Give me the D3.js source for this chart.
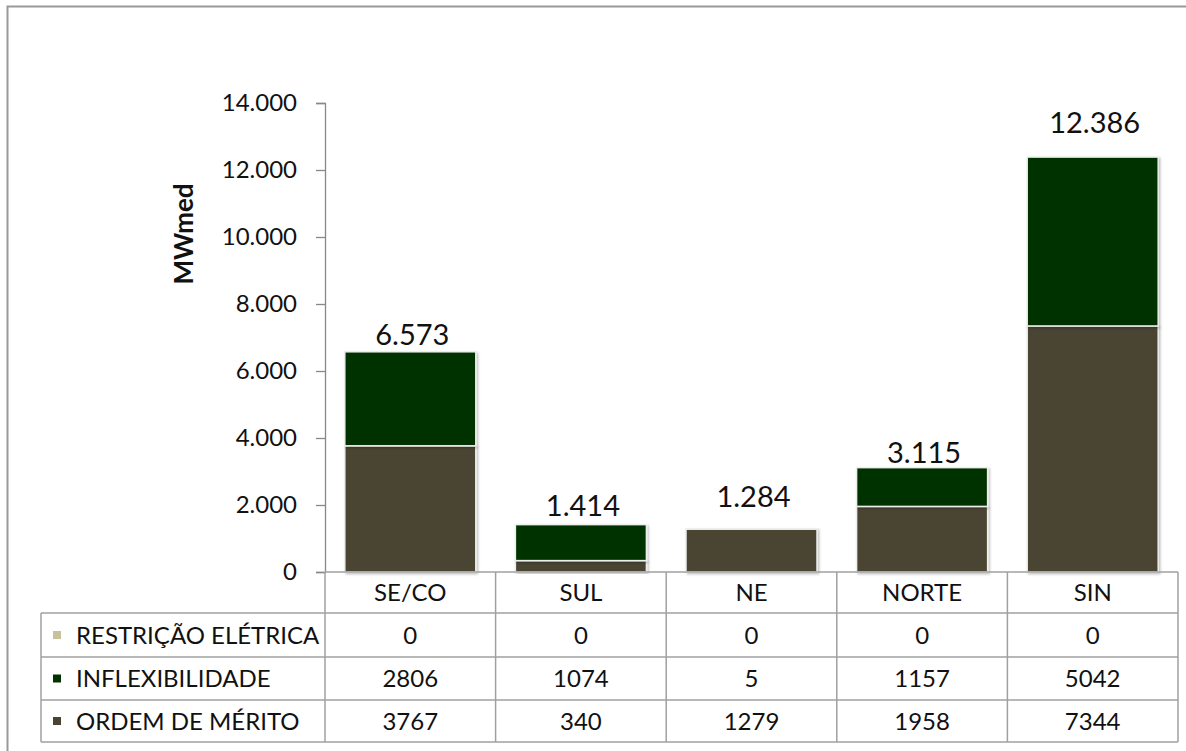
<!DOCTYPE html>
<html>
<head>
<meta charset="utf-8">
<script src="https://cdn.jsdelivr.net/npm/d3@7"></script>
<style>
  body { margin: 0; background: #fff; }
  svg { display: block; font-family: Lato, "Noto Sans", sans-serif; }
</style>
</head>
<body>
<svg id="chart"></svg>
<script>
// Data
var categories = ["SE/CO", "SUL", "NE", "NORTE", "SIN"];
var seriesNames = ["RESTRIÇÃO ELÉTRICA", "INFLEXIBILIDADE", "ORDEM DE MÉRITO"];
var restricao = [0, 0, 0, 0, 0];
var inflexibilidade = [2806, 1074, 5, 1157, 5042];
var ordemMerito = [3767, 340, 1279, 1958, 7344];
var yTicks = [0, 2000, 4000, 6000, 8000, 10000, 12000, 14000];

// gap (px) between each total label and its bar, labels were placed by hand in the original
var labelGap = [7, 9, 22, 5, 24];

var colors = {
    "RESTRIÇÃO ELÉTRICA": "#c9c09c",
    "INFLEXIBILIDADE": "#003300",
    "ORDEM DE MÉRITO": "#4a4430"
};

var W = 1186, H = 751;
var svg = d3.select("#chart").attr("width", W).attr("height", H);

// outer frame
svg.append("rect")
    .attr("x", 7.5).attr("y", 6.5)
    .attr("width", W + 20).attr("height", H + 20)
    .attr("fill", "none").attr("stroke", "#999").attr("stroke-width", 2);

var loc = d3.formatLocale({decimal: ",", thousands: ".", grouping: [3], currency: ["", ""]});
var fmt = loc.format(",d");

// rows for the stack
var rows = categories.map(function (c, i) {
    return {
        category: c,
        "ORDEM DE MÉRITO": ordemMerito[i],
        "INFLEXIBILIDADE": inflexibilidade[i],
        "RESTRIÇÃO ELÉTRICA": restricao[i]
    };
});
var stacked = d3.stack()
    .keys(["ORDEM DE MÉRITO", "INFLEXIBILIDADE", "RESTRIÇÃO ELÉTRICA"])(rows);
var total = function (d) {
    return d["ORDEM DE MÉRITO"] + d["INFLEXIBILIDADE"] + d["RESTRIÇÃO ELÉTRICA"];
};

var plotLeft = 325, plotRight = 1178, plotTop = 103, plotBottom = 572;
var x = d3.scaleBand()
    .domain(categories)
    .range([plotLeft, plotRight])
    .paddingInner(0.232)
    .paddingOuter(0.116);
var y = d3.scaleLinear()
    .domain([0, 14000])
    .range([plotBottom, plotTop]);

var step = x.step();
var colLeft = function (c) { return x(c) - step * x.paddingInner() / 2; };

// y axis
var yAxis = svg.append("g")
    .attr("transform", "translate(" + plotLeft + ",0)")
    .call(d3.axisLeft(y).tickValues(yTicks).tickFormat(fmt).tickSize(9).tickPadding(19));
yAxis.select(".domain").attr("stroke", "#888").attr("stroke-width", 1.3);
yAxis.selectAll(".tick line").attr("stroke", "#888").attr("stroke-width", 1.3);
yAxis.selectAll("text")
    .attr("fill", "#111")
    .style("font-size", "24px")
    .style("font-family", "Lato, 'Noto Sans', sans-serif");

svg.append("text")
    .attr("transform", "translate(193,234) rotate(-90)")
    .attr("text-anchor", "middle")
    .style("font-size", "26px")
    .style("font-weight", "bold")
    .attr("fill", "#111")
    .text("MWmed");

// bar shadow filter
var defs = svg.append("defs");
var f = defs.append("filter").attr("id", "shadow")
    .attr("x", "-10%").attr("y", "-10%").attr("width", "120%").attr("height", "120%");
f.append("feDropShadow").attr("dx", 1.5).attr("dy", 1.5).attr("stdDeviation", 1.2)
    .attr("flood-color", "#000").attr("flood-opacity", 0.25);

// bars
svg.append("g")
    .selectAll("g")
    .data(stacked)
    .enter().append("g")
    .attr("fill", function (d) { return colors[d.key]; })
    .selectAll("rect")
    .data(function (d) { return d.filter(function (v) { return v[1] - v[0] > 0; }); })
    .enter().append("rect")
    .attr("x", function (d) { return x(d.data.category); })
    .attr("y", function (d) { return y(d[1]); })
    .attr("width", x.bandwidth())
    .attr("height", function (d) { return y(d[0]) - y(d[1]); })
    .attr("stroke", "#eeeeee")
    .attr("stroke-width", 1.5)
    .attr("filter", "url(#shadow)");

// totals above bars
svg.append("g")
    .selectAll("text")
    .data(rows)
    .enter().append("text")
    .attr("x", function (d) { return x(d.category) + x.bandwidth() / 2 + 2; })
    .attr("y", function (d, i) { return y(total(d)) - labelGap[i]; })
    .attr("text-anchor", "middle")
    .attr("fill", "#111")
    .style("font-size", "29px")
    .text(function (d) { return fmt(total(d)); });

// data table
var tableLeft = 41;
var rowY = [572, 613, 657, 700, 742];
var tbl = svg.append("g").attr("stroke", "#a0a0a0").attr("stroke-width", 1.5);

// horizontal lines
tbl.append("line").attr("x1", plotLeft).attr("x2", plotRight).attr("y1", rowY[0]).attr("y2", rowY[0]);
rowY.slice(1).forEach(function (ry) {
    tbl.append("line").attr("x1", tableLeft).attr("x2", plotRight).attr("y1", ry).attr("y2", ry);
});
// vertical lines
tbl.append("line").attr("x1", tableLeft).attr("x2", tableLeft).attr("y1", rowY[1]).attr("y2", rowY[4]);
categories.forEach(function (c) {
    var cx = colLeft(c);
    tbl.append("line").attr("x1", cx).attr("x2", cx).attr("y1", rowY[0]).attr("y2", rowY[4]);
});
tbl.append("line").attr("x1", plotRight).attr("x2", plotRight).attr("y1", rowY[0]).attr("y2", rowY[4]);

// category header
svg.append("g").selectAll("text")
    .data(categories)
    .enter().append("text")
    .attr("x", function (c) { return x(c) + x.bandwidth() / 2; })
    .attr("y", (rowY[0] + rowY[1]) / 2)
    .attr("dy", "0.36em")
    .attr("text-anchor", "middle")
    .attr("fill", "#111")
    .style("font-size", "24px")
    .text(function (c) { return c; });

var tableValues = [restricao, inflexibilidade, ordemMerito];
seriesNames.forEach(function (name, r) {
    var cy = (rowY[r + 1] + rowY[r + 2]) / 2;
    svg.append("rect")
        .attr("x", 53).attr("y", cy - 4)
        .attr("width", 8).attr("height", 8)
        .attr("fill", colors[name]);
    svg.append("text")
        .attr("x", 76).attr("y", cy)
        .attr("dy", "0.36em")
        .attr("fill", "#111")
        .style("font-size", "24px")
        .text(name);
    svg.append("g").selectAll("text")
        .data(tableValues[r])
        .enter().append("text")
        .attr("x", function (v, i) { return x(categories[i]) + x.bandwidth() / 2; })
        .attr("y", cy)
        .attr("dy", "0.36em")
        .attr("text-anchor", "middle")
        .attr("fill", "#111")
        .style("font-size", "24px")
        .text(function (v) { return v; });
});
</script>
</body>
</html>
